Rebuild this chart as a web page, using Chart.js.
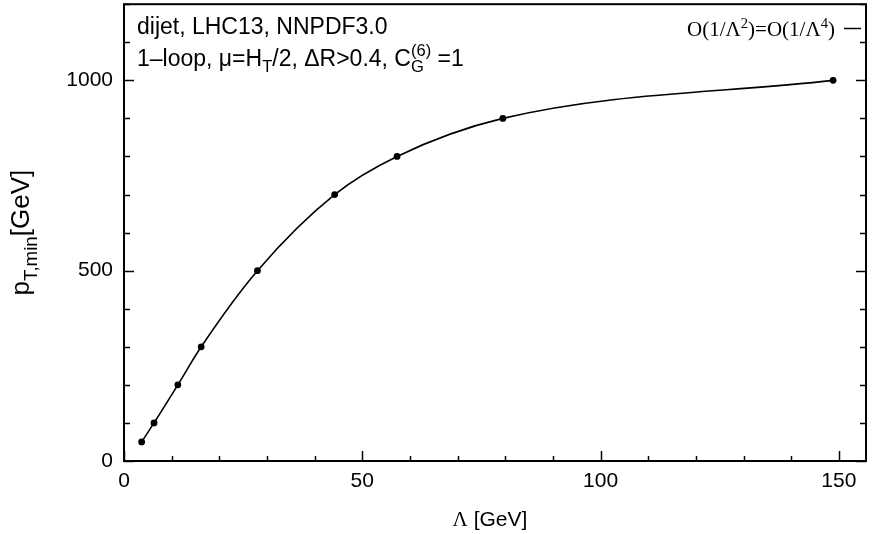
<!DOCTYPE html>
<html>
<head>
<meta charset="utf-8">
<script src="https://cdn.jsdelivr.net/npm/chart.js@4.4.0/dist/chart.umd.min.js"></script>
<style>
  html, body { margin: 0; padding: 0; background: #fff; }
  #wrap { width: 881px; height: 534px; }
</style>
</head>
<body>
<div id="wrap"><canvas id="chart" width="881" height="534"></canvas></div>
<script>
// Werte
const lambdaWerte = [3.7, 6.3, 11.3, 16.2, 28.0, 44.2, 57.3, 79.5, 148.8];
const ptMinWerte = [50, 100, 200, 300, 500, 700, 800, 900, 1000];
const xBeschriftet = [0, 50, 100, 150];
const yBeschriftet = [0, 500, 1000];

const SANS = '"Liberation Sans", Arial, Helvetica, sans-serif';
const SERIF = '"Liberation Serif", "Times New Roman", serif';

// Text aus Teilen zeichnen (Index, Exponent, andere Schrift)
function zeichneTeile(ctx, teile, x, y, groesse, nurMessen) {
  let cx = x;
  let stapel = 0;
  teile.forEach(t => {
    const gr = groesse * (t.s || 1);
    ctx.font = gr + 'px ' + (t.f === 'serif' ? SERIF : SANS);
    const w = ctx.measureText(t.t).width;
    if (!nurMessen) ctx.fillText(t.t, cx, y + (t.dy || 0) * groesse);
    if (t.stack) {
      stapel = Math.max(stapel, w);
    } else {
      cx += Math.max(w, stapel);
      stapel = 0;
    }
  });
  return cx - x;
}

const zeile1 = [{ t: 'dijet, LHC13, NNPDF3.0' }];
const zeile2 = [
  { t: '1\u2013loop, \u03bc=H' },
  { t: 'T', s: 0.72, dy: 0.28 },
  { t: '/2, \u0394R>0.4, C' },
  { t: 'G', s: 0.72, dy: 0.28, stack: true },
  { t: '(6)', s: 0.72, dy: -0.42 },
  { t: ' =1' }
];
const legendeText = [
  { t: 'O(1/\u039b', f: 'serif' },
  { t: '2', f: 'serif', s: 0.7, dy: -0.4 },
  { t: ')=O(1/\u039b', f: 'serif' },
  { t: '4', f: 'serif', s: 0.7, dy: -0.4 },
  { t: ')', f: 'serif' }
];
const xTitel = [{ t: '\u039b', f: 'serif' }, { t: ' [GeV]' }];
const yTitel = [{ t: 'p' }, { t: 'T,min', s: 0.72, dy: 0.3 }, { t: '[GeV]' }];

const rahmenPlugin = {
  id: 'rahmen',
  afterDraw(chart) {
    const ctx = chart.ctx;
    const a = chart.chartArea;
    const sx = chart.scales.x;
    const sy = chart.scales.y;
    ctx.save();
    ctx.strokeStyle = '#000';
    ctx.fillStyle = '#000';

    // Teilstriche nach innen
    ctx.lineWidth = 1.5;
    ctx.beginPath();
    sx.ticks.forEach(t => {
      const px = Math.round(sx.getPixelForValue(t.value)) + 0.5;
      const len = xBeschriftet.includes(t.value) ? 10 : 5;
      ctx.moveTo(px, a.bottom);
      ctx.lineTo(px, a.bottom - len);
    });
    sy.ticks.forEach(t => {
      const py = Math.round(sy.getPixelForValue(t.value)) + 0.5;
      const len = yBeschriftet.includes(t.value) ? 10 : 6;
      ctx.moveTo(a.left, py);
      ctx.lineTo(a.left + len, py);
      ctx.moveTo(a.right, py);
      ctx.lineTo(a.right - len, py);
    });
    ctx.stroke();

    // Rahmen
    ctx.lineWidth = 2;
    ctx.strokeRect(a.left, a.top, a.right - a.left, a.bottom - a.top);

    // Beschriftung im Diagramm
    ctx.textBaseline = 'alphabetic';
    ctx.textAlign = 'left';
    zeichneTeile(ctx, zeile1, a.left + 13, 34, 23);
    zeichneTeile(ctx, zeile2, a.left + 13, 66, 23);

    // Legende
    const lw = zeichneTeile(ctx, legendeText, 0, 0, 21, true);
    zeichneTeile(ctx, legendeText, a.right - 31 - lw, 36, 21);
    ctx.lineWidth = 1.5;
    ctx.beginPath();
    ctx.moveTo(a.right - 22, 28.5);
    ctx.lineTo(a.right - 5, 28.5);
    ctx.stroke();

    // Achsentitel
    const xw = zeichneTeile(ctx, xTitel, 0, 0, 21, true);
    zeichneTeile(ctx, xTitel, (a.left + a.right) / 2 - 5 - xw / 2, 526, 21);
    const yw = zeichneTeile(ctx, yTitel, 0, 0, 26, true);
    ctx.translate(29, (a.top + a.bottom) / 2);
    ctx.rotate(-Math.PI / 2);
    zeichneTeile(ctx, yTitel, -yw / 2, 0, 26);
    ctx.restore();
  }
};

const tickFont = { family: SANS, size: 21 };

const ctx = document.getElementById('chart').getContext('2d');
new Chart(ctx, {
  type: 'scatter',
  data: {
    datasets: [{
      label: 'O(1/\u039b\u00b2)=O(1/\u039b\u2074)',
      data: lambdaWerte.map((x, i) => ({ x: x, y: ptMinWerte[i] })),
      showLine: true,
      borderColor: '#000',
      backgroundColor: '#000',
      borderWidth: 1.6,
      pointRadius: 2.6,
      pointHoverRadius: 2.6,
      cubicInterpolationMode: 'monotone'
    }]
  },
  options: {
    responsive: false,
    animation: false,
    devicePixelRatio: 1,
    layout: { padding: { top: 1, right: 15, left: 0, bottom: 0 } },
    plugins: {
      legend: { display: false },
      tooltip: { enabled: false }
    },
    scales: {
      x: {
        type: 'linear',
        min: 0,
        max: 155.7,
        grid: { display: false, drawTicks: false },
        border: { display: false },
        ticks: {
          stepSize: 10,
          autoSkip: false,
          includeBounds: false,
          maxRotation: 0,
          padding: 8,
          color: '#000',
          font: tickFont,
          callback: v => xBeschriftet.includes(v) ? v : ''
        },
        afterFit: s => {
          s.height = 73;
          s.paddingLeft = 0;
          s.paddingRight = 0;
        }
      },
      y: {
        min: 0,
        max: 1200,
        grid: { display: false, drawTicks: false },
        border: { display: false },
        ticks: {
          stepSize: 100,
          autoSkip: false,
          padding: 11,
          color: '#000',
          font: tickFont,
          callback: v => yBeschriftet.includes(v) ? v : ''
        },
        afterFit: s => {
          s.width = 124;
          s.paddingTop = 0;
          s.paddingBottom = 0;
        }
      }
    }
  },
  plugins: [rahmenPlugin]
});
</script>
</body>
</html>
